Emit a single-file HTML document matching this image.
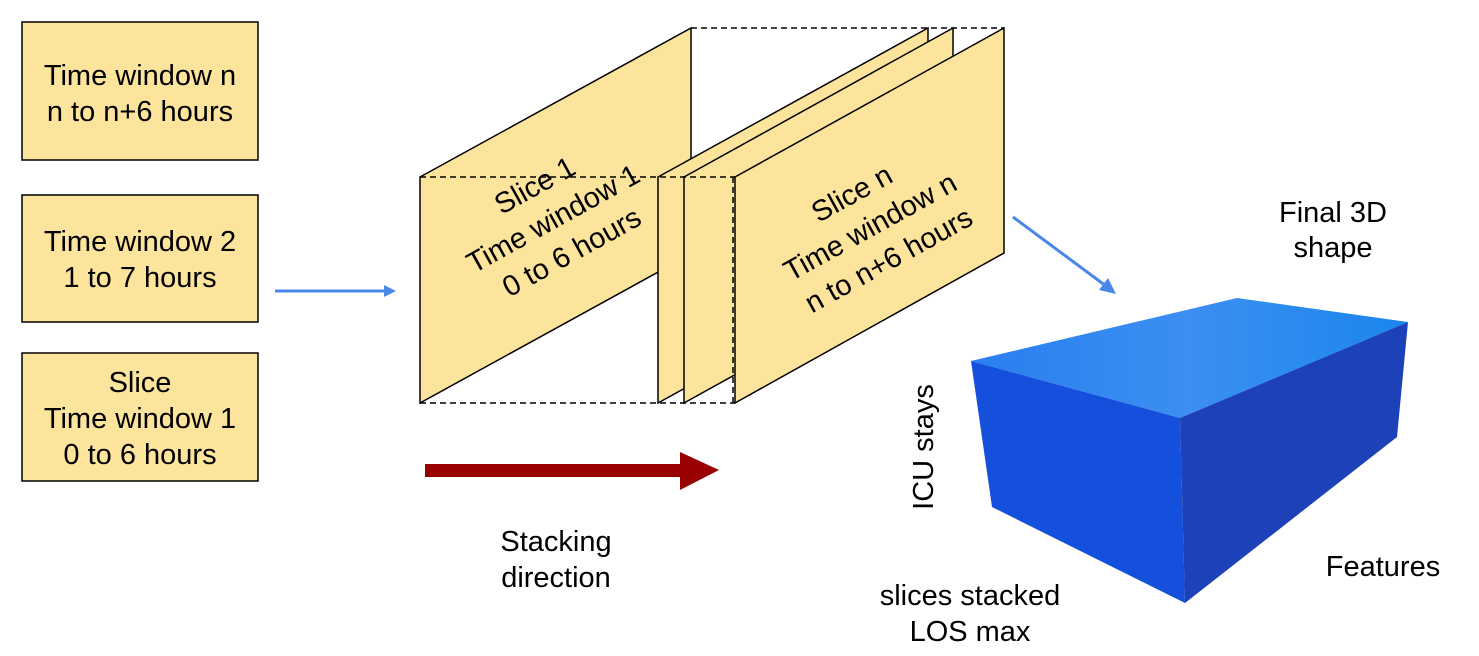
<!DOCTYPE html>
<html><head><meta charset="utf-8"><style>
html,body{margin:0;padding:0;background:#fff}
svg{display:block}
text{font-family:"Liberation Sans",Arial,sans-serif;fill:#000}
</style></head><body>
<svg width="1479" height="656" viewBox="0 0 1479 656" xmlns="http://www.w3.org/2000/svg">
<defs>
<linearGradient id="top" x1="0" y1="0" x2="1" y2="0">
<stop offset="0" stop-color="#2a7ef0"/><stop offset="0.5" stop-color="#3c8ff0"/><stop offset="1" stop-color="#1a86ee"/>
</linearGradient>
</defs>
<g fill="#fde49c" stroke="#000" stroke-width="1.5">
<rect x="22" y="22" width="236" height="138"/>
<rect x="22" y="195" width="236" height="127"/>
<rect x="22" y="353" width="236" height="128"/>
</g>
<g font-size="29" text-anchor="middle">
<text x="140" y="85">Time window n</text>
<text x="140" y="121">n to n+6 hours</text>
<text x="140" y="251">Time window 2</text>
<text x="140" y="287">1 to 7 hours</text>
<text x="140" y="392">Slice</text>
<text x="140" y="428">Time window 1</text>
<text x="140" y="464">0 to 6 hours</text>
</g>
<line x1="275" y1="291" x2="388" y2="291" stroke="#4a86e8" stroke-width="3"/>
<polygon points="396,291 384,285 384,297" fill="#4a86e8"/>
<g stroke="#000" stroke-width="1.5" fill="#fde49c">
<polygon points="420,177 691,28 691,254 420,403"/>
<polygon points="658,177 928,28 928,254 658,403"/>
<polygon points="684,177 953,28 953,254 684,403"/>
<polygon points="735,177 1004,28 1004,253 735,403"/>
</g>
<g stroke="#000" stroke-width="1.5" fill="none" stroke-dasharray="6,4">
<line x1="420" y1="177" x2="735" y2="177"/>
<line x1="420" y1="403" x2="735" y2="403"/>
<line x1="733" y1="177" x2="733" y2="403"/>
<line x1="691" y1="28" x2="1004" y2="28"/>
</g>
<g font-size="29" text-anchor="middle" transform="translate(555,222) rotate(-29)">
<text x="0" y="-32">Slice 1</text>
<text x="0" y="6">Time window 1</text>
<text x="0" y="44">0 to 6 hours</text>
</g>
<g font-size="29" text-anchor="middle" transform="translate(872,230) rotate(-29)">
<text x="0" y="-32">Slice n</text>
<text x="0" y="6">Time window n</text>
<text x="0" y="44">n to n+6 hours</text>
</g>
<rect x="425" y="464" width="258" height="13" fill="#990000"/>
<polygon points="680,452 719,470 680,490" fill="#990000"/>
<text x="556" y="551" font-size="29" text-anchor="middle">Stacking</text>
<text x="556" y="587" font-size="29" text-anchor="middle">direction</text>
<line x1="1013" y1="217" x2="1106" y2="286" stroke="#4a86e8" stroke-width="3"/>
<polygon points="1116,294 1099,290 1108,278" fill="#4a86e8"/>
<polygon points="971,361 1237,298 1408,322 1180,418" fill="url(#top)"/>
<polygon points="971,361 1180,418 1185,603 992,507" fill="#1550dd"/>
<polygon points="1180,418 1408,322 1397,437 1185,603" fill="#1d41b8"/>
<text x="1333" y="222" font-size="29" text-anchor="middle">Final 3D</text>
<text x="1333" y="257" font-size="29" text-anchor="middle">shape</text>
<text x="1383" y="576" font-size="29" text-anchor="middle">Features</text>
<text x="970" y="605" font-size="29" text-anchor="middle">slices stacked</text>
<text x="970" y="641" font-size="29" text-anchor="middle">LOS max</text>
<text transform="translate(933,447) rotate(-90)" font-size="29" text-anchor="middle">ICU stays</text>
</svg>
</body></html>
